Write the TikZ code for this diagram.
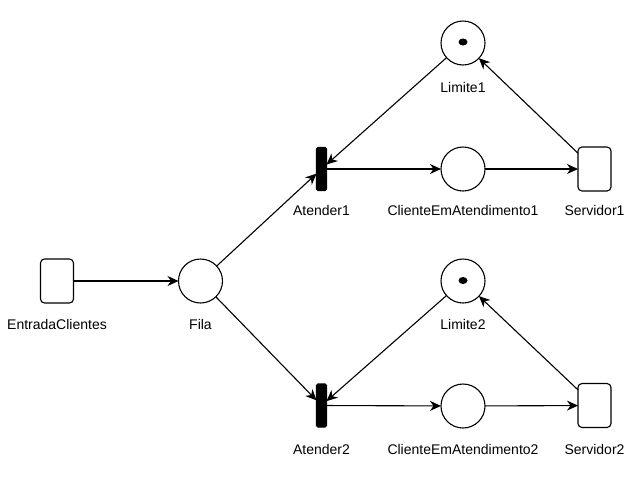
\documentclass[tikz,border=0pt]{standalone}
\usepackage{fontspec}
\setmainfont{Liberation Sans}
\usetikzlibrary{arrows.meta,shapes.geometric}
\begin{document}
\begin{tikzpicture}[x=1pt,y=-1pt,
  every node/.style={inner sep=0pt, outer sep=0pt},
  place/.style={circle, draw, line width=1.1pt, minimum size=44pt},
  trans/.style={rectangle, draw, line width=1.1pt, rounded corners=4pt, minimum width=33pt, minimum height=44pt},
  bar/.style={rectangle, draw, fill=black, line width=1.1pt, rounded corners=1.5pt, minimum width=10pt, minimum height=43pt},
  token/.style={ellipse, fill=black, minimum width=9pt, minimum height=7pt},
  lbl/.style={font=\fontsize{14pt}{16pt}\selectfont, anchor=center},
  arc/.style={line width=1.1pt, -{Stealth[length=11pt,width=10pt,inset=3.5pt]}}
]
\useasboundingbox (0,0) rectangle (632,491);
\node[trans] (E) at (57,281) {};
\node[place] (F) at (200.5,281) {};
\node[bar] (A1) at (321.5,169) {};
\node[bar] (A2) at (321.5,405.5) {};
\node[place] (C1) at (463,169) {};
\node[place] (C2) at (463,406) {};
\node[place] (L1) at (463,43) {};
\node[place] (L2) at (463,281) {};
\node[trans] (S1) at (594.5,169) {};
\node[trans] (S2) at (594.5,405.5) {};
\node[token] (T1) at (463,42) {};
\node[token] (T2) at (463,280.5) {};

\node[lbl] (lE) at (57,324) {EntradaClientes};
\node[lbl] (lF) at (200.5,324) {Fila};
\node[lbl] (lA1) at (321.5,210) {Atender1};
\node[lbl] (lA2) at (321.5,449) {Atender2};
\node[lbl] (lC1) at (463,210) {ClienteEmAtendimento1};
\node[lbl] (lC2) at (463,449) {ClienteEmAtendimento2};
\node[lbl] (lL1) at (463,87) {Limite1};
\node[lbl] (lL2) at (463,324) {Limite2};
\node[lbl] (lS1) at (594.5,210) {Servidor1};
\node[lbl] (lS2) at (594.5,449) {Servidor2};

\draw[arc] (E) -- (F);
\draw[arc] (F) -- (A1);
\draw[arc] (F) -- (A2);
\draw[arc] (A1) -- (C1);
\draw[arc] (A2) -- (C2);
\draw[arc] (C1) -- (S1);
\draw[arc] (C2) -- (S2);
\draw[arc] (S1) -- (L1);
\draw[arc] (S2) -- (L2);
\draw[arc] (L1) -- (A1);
\draw[arc] (L2) -- (A2);
\end{tikzpicture}
\end{document}
